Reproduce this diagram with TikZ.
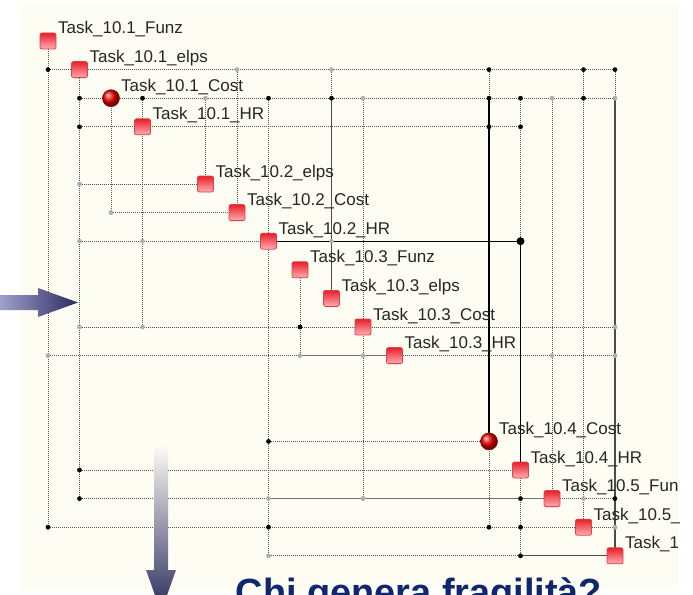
\documentclass[tikz,border=0pt]{standalone}
\usepackage{fontspec}
\setmainfont{Liberation Sans}
\definecolor{paper}{RGB}{253,253,244}
\definecolor{navy}{RGB}{42,43,92}
\definecolor{lavender}{RGB}{160,160,205}
\definecolor{titleblue}{RGB}{16,38,110}
\definecolor{taskred}{RGB}{232,30,40}
\definecolor{taskpink}{RGB}{255,175,180}
\definecolor{taskrim}{RGB}{222,64,72}
\definecolor{linegray}{RGB}{85,85,85}
\definecolor{dotgray}{RGB}{175,175,175}

\begin{document}
\begin{tikzpicture}
        [x=1pt, y=-1pt,
         task_style/.style={rectangle,rounded corners=2pt,minimum size=16pt,inner sep=0pt,draw=taskrim,line width=0.8pt,top color=taskred,bottom color=taskpink},
         cost_style/.style={circle,minimum size=17pt,inner sep=0pt,draw=red!45!black,line width=0.5pt,ball color=red!95!black},
         dot_style/.style={circle,minimum size=4.8pt,inner sep=0pt,fill=black},
         dot_style_light/.style={circle,minimum size=4.8pt,inner sep=0pt,fill=dotgray},
         label_style/.style={anchor=base west,inner sep=0pt,font=\fontsize{17}{20}\selectfont,text=black!85},
         edge_style/.style={draw=linegray,line width=0.9pt,dash pattern=on 1pt off 1pt},
         edge_style_crit/.style={draw=black,line width=1.4pt},
         edge_style_dark/.style={draw=black!70,line width=1.3pt},
         edge_style_soft/.style={draw=black!55,line width=1.2pt}]
            \fill[white] (0,0) rectangle (693,594);
            \fill[paper] (18,3) rectangle (679,590);
            \useasboundingbox (0,0) rectangle (693,594);

            % grid of the matrix
            \foreach \c in {0,...,18}
                \foreach \r in {0,...,18}
                    \coordinate (g\c-\r) at ({48+31.5*\c}, {41+28.6*\r});

            % dotted links
            \draw[edge_style]  (g0-1) -- (g18-1);
            \draw[edge_style]  (g1-2) -- (g18-2);
            \draw[edge_style]  (g1-3) -- (g15-3);
            \draw[edge_style]  (g1-5) -- (g5-5);
            \draw[edge_style]  (g2-6) -- (g6-6);
            \draw[edge_style]  (g1-7) -- (g7-7);
            \draw[edge_style]  (g1-10) -- (g18-10);
            \draw[edge_style]  (g0-11) -- (g8-11);
            \draw[edge_style]  (g11-11) -- (g18-11);
            \draw[edge_style]  (g7-14) -- (g14-14);
            \draw[edge_style]  (g1-15) -- (g15-15);
            \draw[edge_style]  (g1-16) -- (g7-16);
            \draw[edge_style]  (g16-16) -- (g18-16);
            \draw[edge_style]  (g0-17) -- (g18-17);
            \draw[edge_style]  (g7-18) -- (g15-18);
            \draw[edge_style]  (g0-0) -- (g0-17);
            \draw[edge_style]  (g1-1) -- (g1-16);
            \draw[edge_style]  (g2-2) -- (g2-6);
            \draw[edge_style]  (g3-2) -- (g3-10);
            \draw[edge_style]  (g5-2) -- (g5-5);
            \draw[edge_style]  (g6-1) -- (g6-6);
            \draw[edge_style]  (g7-2) -- (g7-18);
            \draw[edge_style]  (g8-8) -- (g8-11);
            \draw[edge_style]  (g9-1) -- (g9-2);
            \draw[edge_style]  (g10-2) -- (g10-16);
            \draw[edge_style]  (g14-1) -- (g14-2);
            \draw[edge_style]  (g14-14) -- (g14-17);
            \draw[edge_style]  (g15-2) -- (g15-7);
            \draw[edge_style]  (g15-15) -- (g15-18);
            \draw[edge_style]  (g16-2) -- (g16-16);
            \draw[edge_style]  (g17-1) -- (g17-17);
            \draw[edge_style]  (g18-1) -- (g18-2);

            % solid links
            \draw[edge_style_crit]  (g7-7) -- (g15-7);
            \draw[edge_style_crit]  (g15-7) -- (g15-15);
            \draw[edge_style_crit]  (g14-2) -- (g14-14);
            \draw[edge_style_dark]  (g9-2) -- (g9-9);
            \draw[edge_style_dark]  (g18-2) -- (g18-18);
            \draw[edge_style_dark]  (g15-18) -- (g18-18);
            \draw[edge_style_soft]  (g8-11) -- (g11-11);
            \draw[edge_style_soft]  (g7-16) -- (g16-16);

            % junctions
            \foreach \c/\r in {0/1,14/1,17/1,18/1,1/2,3/2,7/2,9/2,14/2,15/2,17/2,
                               1/3,14/3,15/3,8/10,7/14,1/15,1/16,15/16,18/16,
                               0/17,7/17,14/17,15/17,15/18}
                \node[dot_style] (d\c-\r) at (g\c-\r) {};
            \foreach \c/\r in {6/1,9/1,5/2,10/2,16/2,18/2,1/5,2/6,1/7,3/7,9/7,
                               1/10,3/10,18/10,0/11,8/11,10/11,16/11,18/11,
                               7/16,10/16,17/16,18/17,7/18}
                \node[dot_style_light] (d\c-\r) at (g\c-\r) {};
            \node[dot_style,minimum size=8pt] (d15-7) at (g15-7) {};

            % tasks
            \node[task_style] (f1) at (g0-0) {};
            \node[task_style] (e1) at (g1-1) {};
            \node[cost_style] (c1) at (g2-2) {};
            \node[task_style] (h1) at (g3-3) {};
            \node[task_style] (e2) at (g5-5) {};
            \node[task_style] (c2) at (g6-6) {};
            \node[task_style] (h2) at (g7-7) {};
            \node[task_style] (f3) at (g8-8) {};
            \node[task_style] (e3) at (g9-9) {};
            \node[task_style] (c3) at (g10-10) {};
            \node[task_style] (h3) at (g11-11) {};
            \node[cost_style] (c4) at (g14-14) {};
            \node[task_style] (h4) at (g15-15) {};
            \node[task_style] (f5) at (g16-16) {};
            \node[task_style] (e5) at (g17-17) {};
            \node[task_style] (t18) at (g18-18) {};

            \begin{scope}
                \clip (18,3) rectangle (679,590);
                \node[label_style] (lf1) at ([shift={(10,-7)}]f1.center) {Task\_10.1\_Funz};
                \node[label_style] (le1) at ([shift={(10,-7)}]e1.center) {Task\_10.1\_elps};
                \node[label_style] (lc1) at ([shift={(10,-7)}]c1.center) {Task\_10.1\_Cost};
                \node[label_style] (lh1) at ([shift={(10,-7)}]h1.center) {Task\_10.1\_HR};
                \node[label_style] (le2) at ([shift={(10,-7)}]e2.center) {Task\_10.2\_elps};
                \node[label_style] (lc2) at ([shift={(10,-7)}]c2.center) {Task\_10.2\_Cost};
                \node[label_style] (lh2) at ([shift={(10,-7)}]h2.center) {Task\_10.2\_HR};
                \node[label_style] (lf3) at ([shift={(10,-7)}]f3.center) {Task\_10.3\_Funz};
                \node[label_style] (le3) at ([shift={(10,-7)}]e3.center) {Task\_10.3\_elps};
                \node[label_style] (lc3) at ([shift={(10,-7)}]c3.center) {Task\_10.3\_Cost};
                \node[label_style] (lh3) at ([shift={(10,-7)}]h3.center) {Task\_10.3\_HR};
                \node[label_style] (lc4) at ([shift={(10,-7)}]c4.center) {Task\_10.4\_Cost};
                \node[label_style] (lh4) at ([shift={(10,-7)}]h4.center) {Task\_10.4\_HR};
                \node[label_style] (lf5) at ([shift={(10,-7)}]f5.center) {Task\_10.5\_Fun};
                \node[label_style] (le5) at ([shift={(10,-7)}]e5.center) {Task\_10.5\_};
                \node[label_style] (lt18) at ([shift={(10,-7)}]t18.center) {Task\_1};
            \end{scope}

            % the two arrows and the question
            \shade[left color=lavender, right color=navy] (0,295) -- (38,295) -- (38,288) -- (78,302.5) -- (38,317) -- (38,310) -- (0,310) -- cycle;
            \shade[top color=paper, bottom color=navy] (154,445) -- (168,445) -- (168,570) -- (176,570) -- (161,612) -- (146,570) -- (154,570) -- cycle;
            \node[anchor=base west, inner sep=0pt, text=titleblue, font=\bfseries\fontsize{37.9}{40}\selectfont] (question) at (235.5,605) {Chi genera fragilità?};
        \end{tikzpicture}
\end{document}
